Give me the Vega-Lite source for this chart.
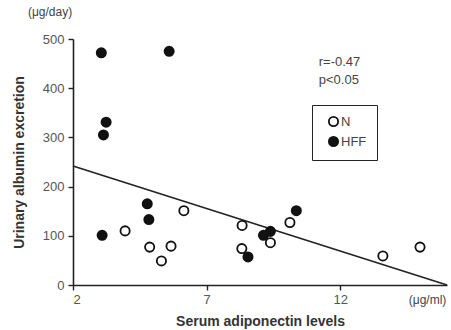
{
  "$schema": "https://vega.github.io/schema/vega-lite/v6.json",
  "width": 374,
  "height": 246,
  "autosize": "none",
  "padding": {"left": 73, "top": 39, "right": 4, "bottom": 45},
  "background": "white",
  "config": {
    "font": "Liberation Sans",
    "view": {"stroke": null},
    "axis": {"grid": false, "domainColor": "#222", "domainWidth": 1.6, "tickColor": "#222", "tickWidth": 1.4, "labelColor": "#555", "labelFontSize": 13, "titleFontSize": 14, "titleFontWeight": "bold", "titleColor": "#333"}
  },
  "datasets": {
    "pts": [
      {"adiponectin": 3.06, "uae": 472, "group": "HFF"},
      {"adiponectin": 5.6, "uae": 475, "group": "HFF"},
      {"adiponectin": 3.24, "uae": 331, "group": "HFF"},
      {"adiponectin": 3.14, "uae": 305, "group": "HFF"},
      {"adiponectin": 3.09, "uae": 101, "group": "HFF"},
      {"adiponectin": 4.78, "uae": 165, "group": "HFF"},
      {"adiponectin": 4.84, "uae": 133, "group": "HFF"},
      {"adiponectin": 8.55, "uae": 57, "group": "HFF"},
      {"adiponectin": 9.13, "uae": 101, "group": "HFF"},
      {"adiponectin": 9.39, "uae": 109, "group": "HFF"},
      {"adiponectin": 10.36, "uae": 151, "group": "HFF"},
      {"adiponectin": 3.95, "uae": 110, "group": "N"},
      {"adiponectin": 4.87, "uae": 77, "group": "N"},
      {"adiponectin": 5.31, "uae": 49, "group": "N"},
      {"adiponectin": 5.67, "uae": 79, "group": "N"},
      {"adiponectin": 6.15, "uae": 151, "group": "N"},
      {"adiponectin": 8.33, "uae": 121, "group": "N"},
      {"adiponectin": 8.32, "uae": 74, "group": "N"},
      {"adiponectin": 9.39, "uae": 86, "group": "N"},
      {"adiponectin": 10.12, "uae": 127, "group": "N"},
      {"adiponectin": 13.6, "uae": 59, "group": "N"},
      {"adiponectin": 14.99, "uae": 77, "group": "N"}
    ],
    "fit": [
      {"adiponectin": 2, "uae": 242},
      {"adiponectin": 16, "uae": 0}
    ],
    "notes": [
      {"adiponectin": 11.2, "uae": 453, "label": "r=-0.47"},
      {"adiponectin": 11.2, "uae": 417, "label": "p<0.05"}
    ]
  },
  "layer": [
    {
      "data": {"name": "fit"},
      "mark": {"type": "line", "color": "#222", "strokeWidth": 1.6},
      "encoding": {
        "x": {"field": "adiponectin", "type": "quantitative"},
        "y": {"field": "uae", "type": "quantitative"}
      }
    },
    {
      "data": {"name": "pts"},
      "mark": {"type": "point", "shape": "circle", "filled": true, "size": 85, "stroke": "#111", "strokeWidth": 1.8, "opacity": 1},
      "encoding": {
        "x": {"field": "adiponectin", "type": "quantitative", "scale": {"domain": [2, 16], "nice": false, "zero": false}, "axis": {"values": [2, 7, 12], "title": "Serum adiponectin levels", "tickSize": 5, "labelPadding": 3, "titleY": 36, "titleBaseline": "middle"}},
        "y": {"field": "uae", "type": "quantitative", "scale": {"domain": [0, 500], "nice": false}, "axis": {"values": [0, 100, 200, 300, 400, 500], "title": "Urinary albumin excretion", "tickSize": 5, "labelPadding": 4, "titleX": -47}},
        "fill": {"field": "group", "type": "nominal", "scale": {"domain": ["N", "HFF"], "range": ["white", "#111"]},
          "legend": {"orient": "none", "legendX": 239, "legendY": 66, "title": null, "strokeColor": "#222", "padding": 10, "symbolOffset": 5, "labelFontSize": 13, "labelColor": "#444", "symbolSize": 85, "symbolStrokeColor": "#111", "symbolStrokeWidth": 1.8, "labelOffset": 1, "rowPadding": 3, "fillColor": "white", "labelExpr": "datum.label + '\u00a0\u00a0\u00a0\u00a0\u00a0\u00a0\u00a0\u00a0\u00a0\u00a0'"}}
      }
    },
    {
      "data": {"name": "notes"},
      "mark": {"type": "text", "align": "left", "baseline": "middle", "fontSize": 13, "color": "#444"},
      "encoding": {
        "x": {"field": "adiponectin", "type": "quantitative"},
        "y": {"field": "uae", "type": "quantitative"},
        "text": {"field": "label"}
      }
    },
    {
      "data": {"values": [
        {"adiponectin": 1.14, "uae": 555, "label": "(μg/day)"},
        {"adiponectin": 15.27, "uae": -31, "label": "(μg/ml)"}
      ]},
      "mark": {"type": "text", "align": "center", "baseline": "middle", "fontSize": 12, "color": "#444"},
      "encoding": {
        "x": {"field": "adiponectin", "type": "quantitative"},
        "y": {"field": "uae", "type": "quantitative"},
        "text": {"field": "label"}
      }
    }
  ]
}
